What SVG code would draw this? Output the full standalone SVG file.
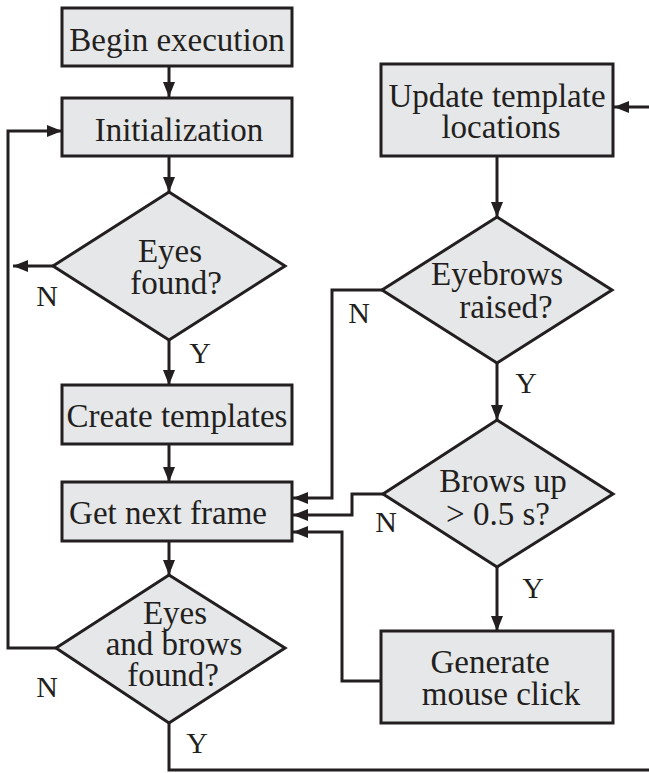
<svg xmlns="http://www.w3.org/2000/svg" width="649" height="773" viewBox="0 0 649 773">
<style>
.box{fill:#e6e7e8;stroke:#231f20;stroke-width:3}
.ln{fill:none;stroke:#231f20;stroke-width:3;stroke-linejoin:miter}
.t{font-family:"Liberation Serif","Times New Roman",serif;font-size:33px;fill:#231f20;text-anchor:middle}
.lb{font-family:"Liberation Serif","Times New Roman",serif;font-size:30px;fill:#231f20;text-anchor:middle}
</style>
<defs>
<marker id="ah" markerUnits="userSpaceOnUse" markerWidth="16" markerHeight="12" refX="15" refY="6" orient="auto">
<path d="M0,0 L15,6 L0,12 z" fill="#231f20"/>
</marker>
</defs>
<rect width="649" height="773" fill="#ffffff"/>
<g id="connectors">
<path class="ln" d="M169,66 L169,97" marker-end="url(#ah)"/>
<path class="ln" d="M169,156 L169,192" marker-end="url(#ah)"/>
<path class="ln" d="M53,266 L13,266" marker-end="url(#ah)"/>
<path class="ln" d="M169,340 L169,385" marker-end="url(#ah)"/>
<path class="ln" d="M169,444 L169,482" marker-end="url(#ah)"/>
<path class="ln" d="M169,541 L169,575" marker-end="url(#ah)"/>
<path class="ln" d="M56,648 L8,648 L8,131 L62,131" marker-end="url(#ah)"/>
<path class="ln" d="M169,723 L169,770 L649,770"/>
<path class="ln" d="M649,107 L614,107" marker-end="url(#ah)"/>
<path class="ln" d="M497,156 L497,217" marker-end="url(#ah)"/>
<path class="ln" d="M382,290 L332,290 L332,498 L293,498" marker-end="url(#ah)"/>
<path class="ln" d="M497,363 L497,420" marker-end="url(#ah)"/>
<path class="ln" d="M383,494 L352,494 L352,515 L293,515" marker-end="url(#ah)"/>
<path class="ln" d="M497,567 L497,631" marker-end="url(#ah)"/>
<path class="ln" d="M381,681 L342,681 L342,532 L293,532" marker-end="url(#ah)"/>
</g>
<g id="labels">
<text class="lb" x="47" y="306">N</text>
<text class="lb" x="200" y="363">Y</text>
<text class="lb" x="359" y="323">N</text>
<text class="lb" x="526" y="393">Y</text>
<text class="lb" x="386" y="532">N</text>
<text class="lb" x="533" y="598">Y</text>
<text class="lb" x="47" y="697">N</text>
<text class="lb" x="197" y="753">Y</text>
</g>
<g id="begin"><rect class="box" x="62" y="8" width="230" height="58"/><text class="t" x="177" y="51">Begin execution</text></g>
<g id="init"><rect class="box" x="62" y="98" width="230" height="58"/><text class="t" x="179" y="141">Initialization</text></g>
<g id="eyesfound"><polygon class="box" points="169,192 285,266 169,340 53,266"/><text class="t"><tspan x="170" y="262">Eyes</tspan><tspan x="176" y="294">found?</tspan></text></g>
<g id="create"><rect class="box" x="62" y="385" width="230" height="59"/><text class="t" x="177" y="427">Create templates</text></g>
<g id="getframe"><rect class="box" x="62" y="482" width="230" height="59"/><text class="t" x="168" y="524">Get next frame</text></g>
<g id="eyesbrows"><polygon class="box" points="169,575 285,648 169,723 56,648"/><text class="t"><tspan x="175" y="624">Eyes</tspan><tspan x="174" y="655">and brows</tspan><tspan x="173" y="686">found?</tspan></text></g>
<g id="update"><rect class="box" x="381" y="64" width="232" height="92"/><text class="t"><tspan x="497" y="107">Update template</tspan><tspan x="501" y="138">locations</tspan></text></g>
<g id="eyebrows"><polygon class="box" points="497,217 612,290 497,363 382,290"/><text class="t"><tspan x="497" y="285">Eyebrows</tspan><tspan x="506" y="318">raised?</tspan></text></g>
<g id="browsup"><polygon class="box" points="497,420 613,494 497,567 383,494"/><text class="t"><tspan x="503" y="492">Brows up</tspan><tspan x="498" y="525">&gt; 0.5 s?</tspan></text></g>
<g id="click"><rect class="box" x="381" y="631" width="232" height="92"/><text class="t"><tspan x="490" y="673">Generate</tspan><tspan x="501" y="705">mouse click</tspan></text></g>
</svg>
